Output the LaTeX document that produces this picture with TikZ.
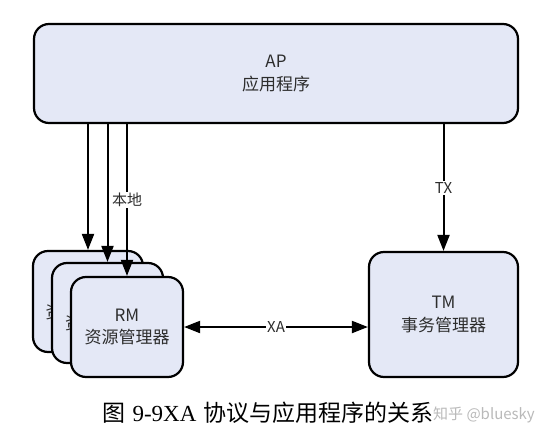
\documentclass[tikz,border=0pt]{standalone}
\usepackage{fontspec}
\newfontfamily\cjk{Noto Sans CJK SC}
\newfontfamily\capserif{Liberation Serif}
\usetikzlibrary{arrows.meta}
\definecolor{boxfill}{RGB}{228,232,246}
\definecolor{txtgray}{RGB}{45,45,45}
\definecolor{wmgray}{RGB}{185,185,185}

\begin{document}
\begin{tikzpicture}[x=1pt,y=-1pt,>={Triangle[length=16pt,width=12pt]},
        box/.style={draw=black,line width=2.2pt,rounded corners=15pt,fill=boxfill,align=center,text=txtgray,inner sep=0pt,font=\cjk\fontsize{17}{22.5}\selectfont},
        conn/.style={line width=2pt},
        lbl/.style={fill=white,inner sep=1.5pt,text=txtgray,font=\cjk\fontsize{15}{18}\selectfont}]
        \useasboundingbox(0,0)rectangle(552,442);
        \node[box,minimum width=484pt,minimum height=99pt](ap)at(276,73.5){AP\\应用程序};
        \node[box,minimum width=110pt,minimum height=101pt](rmA)at(88,301.5){RM\\资源管理器};
        \node[box,minimum width=111pt,minimum height=100pt](rmB)at(107.5,313){RM\\资源管理器};
        \node[box,minimum width=112pt,minimum height=100pt](rmC)at(127,327){RM\\资源管理器};
        \node[box,minimum width=149pt,minimum height=125pt](tm)at(443.5,314.5){TM\\事务管理器};

        \draw[->,conn](rmA.north|-ap.south)--(rmA.north);
        \draw[->,conn](rmB.north|-ap.south)--(rmB.north);
        \draw[->,conn](rmC.north|-ap.south)--node[lbl]{本地}(rmC.north);
        \draw[->,conn](tm.north|-ap.south)--node[lbl]{TX}(tm.north);
        \draw[<->,conn](rmC.east)--node[lbl]{XA}(rmC.east-|tm.west);

        \node[font=\fontsize{23}{27}\selectfont](cap)at(268,413){{\cjk 图} {\capserif 9-9XA} {\cjk 协议与应用程序的关系}};
        \node[text=wmgray,font=\cjk\fontsize{15}{18}\selectfont](wm)at(484,415){知乎 @bluesky};
    \end{tikzpicture}
\end{document}
